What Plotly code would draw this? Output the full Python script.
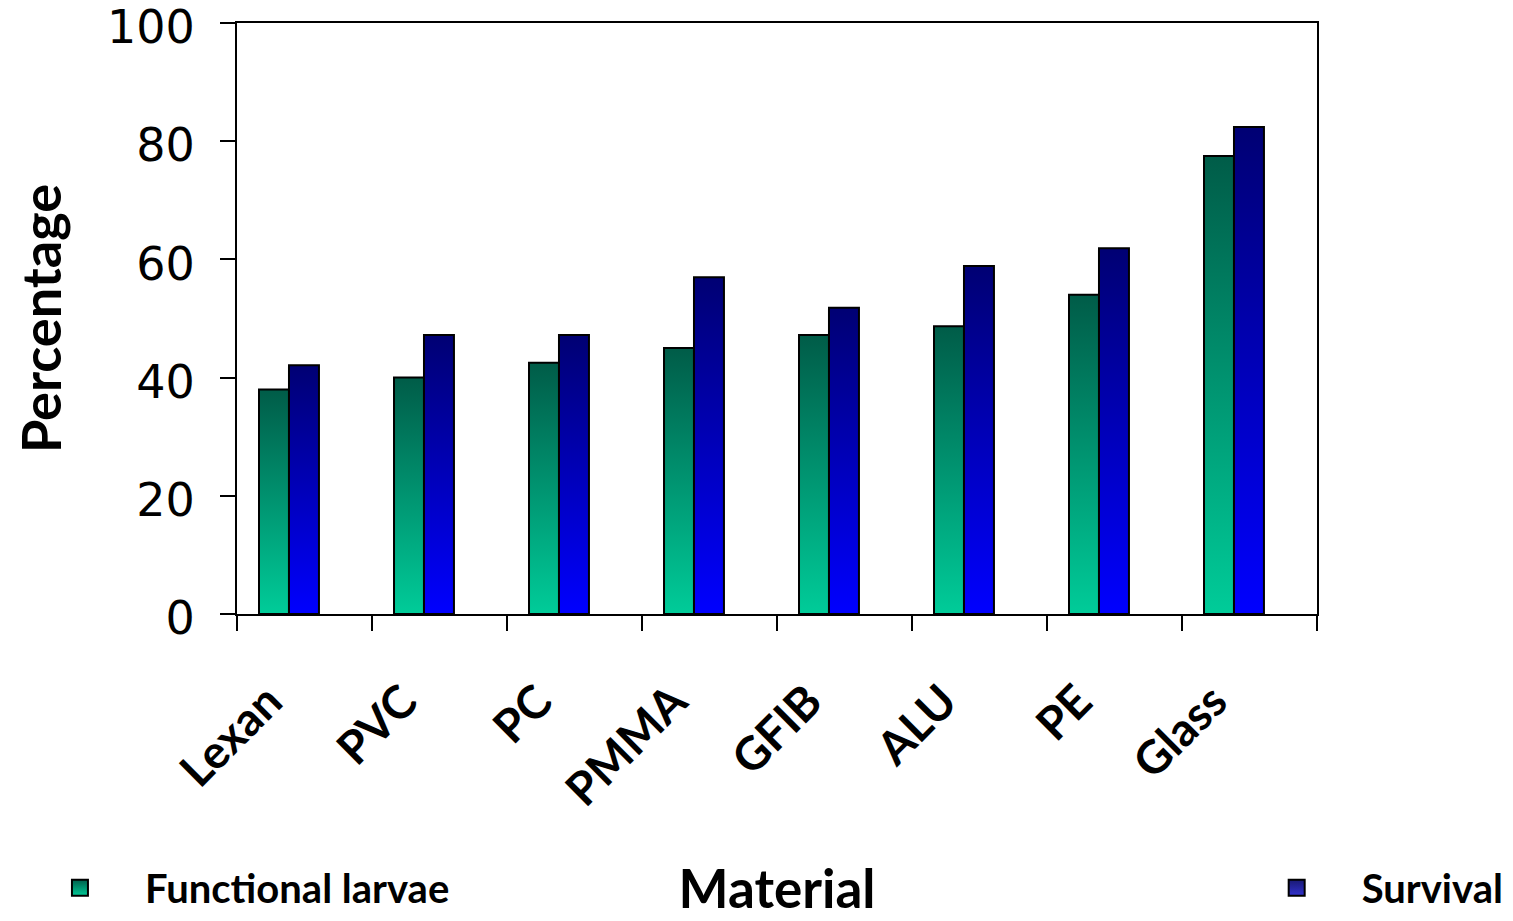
import plotly.graph_objects as go

materials = ["Lexan", "PVC", "PC", "PMMA", "GFIB", "ALU", "PE", "Glass"]
functional_larvae = [38.0, 40.0, 42.5, 45.0, 47.2, 48.7, 54.0, 77.5]
survival = [42.1, 47.2, 47.2, 57.0, 51.8, 58.9, 61.9, 82.4]
y_ticks = [0, 20, 40, 60, 80, 100]

GREEN_SCALE = [[0, "rgb(0,204,153)"], [1, "rgb(0,92,72)"]]
BLUE_SCALE = [[0, "rgb(0,0,255)"], [1, "rgb(0,0,115)"]]
GREEN_LEG = ("rgb(0,200,150)", "rgb(0,95,75)")
BLUE_LEG = ("rgb(50,50,205)", "rgb(25,25,115)")

BAR_W = 0.222
GROUP_SHIFT = -0.115  # bar-group centre offset relative to category centre

LABEL_FONT = "Comic Sans MS, Lato, DejaVu Sans, sans-serif"
TICK_FONT = "DejaVu Sans, Verdana, sans-serif"

fig = go.Figure()

series = [
    ("Functional larvae", functional_larvae, GREEN_SCALE, GREEN_LEG, -1, "legend"),
    ("Survival", survival, BLUE_SCALE, BLUE_LEG, 0, "legend2"),
]

for name, values, scale, leg_cols, slot, leg in series:
    for i, v in enumerate(values):
        x0 = i + GROUP_SHIFT + slot * BAR_W
        x1 = x0 + BAR_W
        fig.add_trace(go.Scatter(
            x=[x0, x0, x1, x1, x0],
            y=[0, v, v, 0, 0],
            mode="lines",
            fill="toself",
            fillgradient=dict(type="vertical", colorscale=scale),
            line=dict(color="black", width=2),
            name=name,
            legendgroup=name,
            showlegend=False,
            hovertemplate=f"{materials[i]}<br>{name}: {v}<extra></extra>",
        ))
    # legend entry
    fig.add_trace(go.Scatter(
        x=[None], y=[None],
        mode="markers",
        marker=dict(symbol="square", size=16, color=leg_cols[1],
                    gradient=dict(type="vertical", color=leg_cols[0]),
                    line=dict(color="black", width=2)),
        name=name,
        legendgroup=name,
        legend=leg,
        showlegend=True,
    ))

centers = list(range(len(materials)))
bounds = [i - 0.5 for i in range(len(materials) + 1)]

fig.update_layout(
    width=1513,
    height=921,
    paper_bgcolor="white",
    plot_bgcolor="white",
    margin=dict(l=229, r=204, t=15, b=315, autoexpand=False),
    xaxis=dict(
        automargin=False,
        range=[-0.5, len(materials) - 0.5],
        tickmode="array",
        tickvals=centers,
        ticktext=materials,
        tickangle=-45,
        ticks="",
        ticklabelstandoff=40,
        ticklabelshift=-36,
        tickfont=dict(family=LABEL_FONT, size=46, color="black", weight="bold"),
        minor=dict(tickmode="array", tickvals=bounds, ticks="outside",
                   ticklen=15, tickwidth=2, tickcolor="black"),
        showline=True, linecolor="black", linewidth=2, mirror=True,
        showgrid=False, zeroline=False,
        title=dict(text="Material", standoff=56,
                   font=dict(family=LABEL_FONT, size=53, color="black", weight="bold")),
    ),
    yaxis=dict(
        automargin=False,
        range=[0, 100],
        tickmode="array",
        tickvals=y_ticks,
        ticks="outside",
        ticklen=15, tickwidth=2, tickcolor="black",
        ticklabelstandoff=16,
        ticklabelshift=4,
        ticklabeloverflow="allow",
        tickfont=dict(family=TICK_FONT, size=46, color="black"),
        showline=True, linecolor="black", linewidth=2, mirror=True,
        showgrid=False, zeroline=False,
        title=dict(text="Percentage", standoff=70,
                   font=dict(family=LABEL_FONT, size=54, color="black", weight="bold")),
    ),
    legend=dict(
        x=-0.2056, y=-0.518, xanchor="left", yanchor="bottom",
        font=dict(family=LABEL_FONT, size=40, color="black", weight="bold"),
        bgcolor="rgba(0,0,0,0)", itemwidth=120,
    ),
    legend2=dict(
        x=0.921, y=-0.518, xanchor="left", yanchor="bottom",
        font=dict(family=LABEL_FONT, size=40, color="black", weight="bold"),
        bgcolor="rgba(0,0,0,0)", itemwidth=120,
    ),
)

fig.write_html("out.html")
